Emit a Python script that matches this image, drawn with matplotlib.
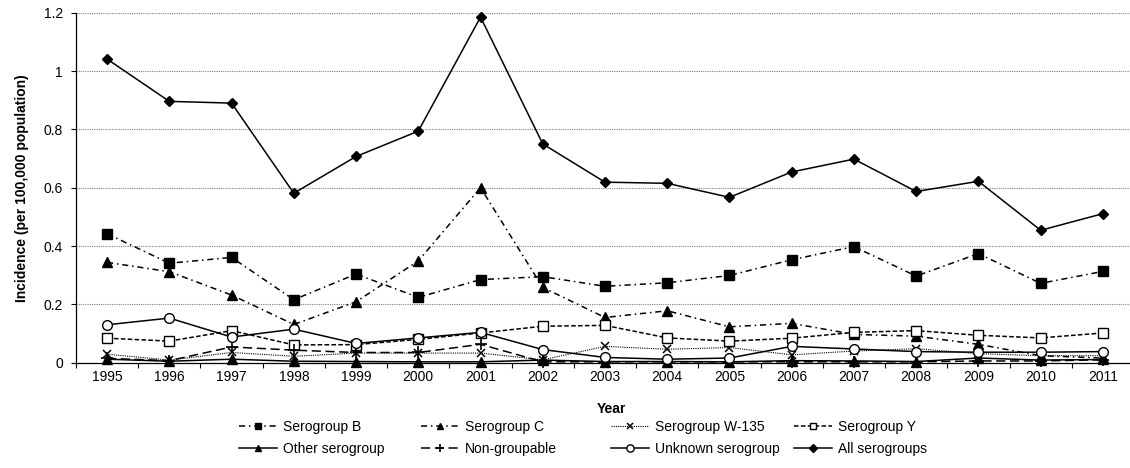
import numpy as np
import matplotlib
matplotlib.use("Agg")
import matplotlib.pyplot as plt


# =========================================================
# DATA (incidence per 100,000 population)
# =========================================================

years = [
    "1995", "1996", "1997", "1998", "1999", "2000", "2001", "2002", "2003",
    "2004", "2005", "2006", "2007", "2008", "2009", "2010", "2011"
]

sero_b = [0.442, 0.341, 0.361, 0.216, 0.304, 0.224, 0.285, 0.295, 0.262,
          0.274, 0.299, 0.353, 0.398, 0.297, 0.374, 0.272, 0.313]

sero_c = [0.344, 0.312, 0.232, 0.131, 0.209, 0.349, 0.600, 0.258, 0.155,
          0.178, 0.123, 0.135, 0.097, 0.091, 0.063, 0.024, 0.016]

sero_w135 = [0.029, 0.009, 0.035, 0.022, 0.033, 0.033, 0.033, 0.010, 0.056,
             0.046, 0.052, 0.027, 0.040, 0.048, 0.031, 0.024, 0.024]

sero_y = [0.084, 0.074, 0.110, 0.061, 0.062, 0.080, 0.102, 0.125, 0.128,
          0.085, 0.074, 0.084, 0.104, 0.110, 0.094, 0.085, 0.102]

other_sero = [0.012, 0.005, 0.012, 0.005, 0.004, 0.003, 0.003, 0.009, 0.004,
              0.004, 0.003, 0.007, 0.006, 0.004, 0.016, 0.009, 0.011]

non_groupable = [0.015, 0.007, 0.054, 0.043, 0.035, 0.035, 0.063, 0.003, 0.003,
                 0.003, 0.003, 0.003, 0.003, 0.003, 0.006, 0.006, 0.010]

unknown_sero = [0.130, 0.153, 0.088, 0.115, 0.066, 0.085, 0.104, 0.045, 0.018,
                0.012, 0.016, 0.056, 0.047, 0.038, 0.036, 0.036, 0.038]

all_sero = [1.041, 0.896, 0.890, 0.581, 0.707, 0.794, 1.185, 0.750, 0.619,
            0.615, 0.567, 0.654, 0.698, 0.587, 0.622, 0.454, 0.511]

y_ticks = [0, 0.2, 0.4, 0.6, 0.8, 1.0, 1.2]


# =========================================================
# STYLE
# =========================================================

plt.rcParams["font.family"] = ["Liberation Sans", "DejaVu Sans"]
plt.rcParams["font.size"] = 10

W, H = 1130, 468

fig = plt.figure(figsize=(W / 100, H / 100), dpi=100)

ax = fig.add_axes([76 / W, 105.3 / H, 1058 / W, 350 / H])

x = np.arange(len(years))

dash_dot = (0, (4, 2.5, 1, 2.5))

series = [
    ("Serogroup B", sero_b,
     dict(linestyle=dash_dot, marker="s", mfc="black", ms=6.5)),
    ("Serogroup C", sero_c,
     dict(linestyle=dash_dot, marker="^", mfc="black", ms=6.5)),
    ("Serogroup W-135", sero_w135,
     dict(linestyle=(0, (1, 1)), lw=0.8, marker="x", ms=6, mew=1.1)),
    ("Serogroup Y", sero_y,
     dict(linestyle=(0, (3, 1.5)), marker="s", mfc="white", ms=6.5)),
    ("Other serogroup", other_sero,
     dict(linestyle="-", marker="^", mfc="black", ms=6.5)),
    ("Non-groupable", non_groupable,
     dict(linestyle=(0, (6, 3)), marker="+", ms=8, mew=1.2)),
    ("Unknown serogroup", unknown_sero,
     dict(linestyle="-", marker="o", mfc="white", ms=7)),
    ("All serogroups", all_sero,
     dict(linestyle="-", marker="D", mfc="black", ms=5.5)),
]

handles = {}

for label, vals, style in series:

    style.setdefault("lw", 1.1)

    line, = ax.plot(
        x,
        vals,
        color="black",
        mec="black",
        label=label,
        clip_on=False,
        zorder=3,
        **style
    )

    handles[label] = line


# =========================================================
# AXES
# =========================================================

ax.set_xlim(-0.5, len(years) - 0.5)
ax.set_ylim(0, 1.2)

ax.set_yticks(y_ticks)
ax.set_yticklabels([f"{t:g}" for t in y_ticks])

ax.set_xticks(np.arange(-0.5, len(years), 1))
ax.set_xticklabels([])
ax.set_xticks(x, minor=True)
ax.set_xticklabels(years, minor=True)

ax.tick_params(axis="x", which="major", direction="out", length=3.5, width=0.8)
ax.tick_params(axis="x", which="minor", length=0, pad=5)
ax.tick_params(axis="y", direction="out", length=3.5, width=0.8, pad=6)

for t in y_ticks[1:]:
    ax.axhline(t, color="#7f7f7f", lw=0.8, linestyle=(0, (1, 1)), zorder=1)

ax.spines["top"].set_visible(False)
ax.spines["right"].set_visible(False)
ax.spines["left"].set_linewidth(0.9)
ax.spines["bottom"].set_linewidth(0.9)

fig.text(
    22 / W, 1 - 187.7 / H,
    "Incidence (per 100,000 population)",
    rotation=90, ha="center", va="center",
    fontweight="bold", fontsize=10
)

fig.text(
    611 / W, 1 - 409 / H,
    "Year",
    ha="center", va="center",
    fontweight="bold", fontsize=10
)


# =========================================================
# LEGEND (4 columns, 2 rows)
# =========================================================

legend_cols = [
    ["Serogroup B", "Other serogroup"],
    ["Serogroup C", "Non-groupable"],
    ["Serogroup W-135", "Unknown serogroup"],
    ["Serogroup Y", "All serogroups"],
]

text_x = [283, 465, 655, 838]

for col, tx in zip(legend_cols, text_x):

    fig.legend(
        [handles[c] for c in col],
        col,
        loc="upper left",
        bbox_to_anchor=((tx - 44) / W, 1 - 420 / H),
        frameon=False,
        borderpad=0,
        borderaxespad=0,
        handlelength=2.75,
        handletextpad=0.4,
        labelspacing=0.55,
        markerscale=0.75,
        fontsize=10
    )

fig.savefig("out.png", dpi=100)

print("Saved: out.png")
